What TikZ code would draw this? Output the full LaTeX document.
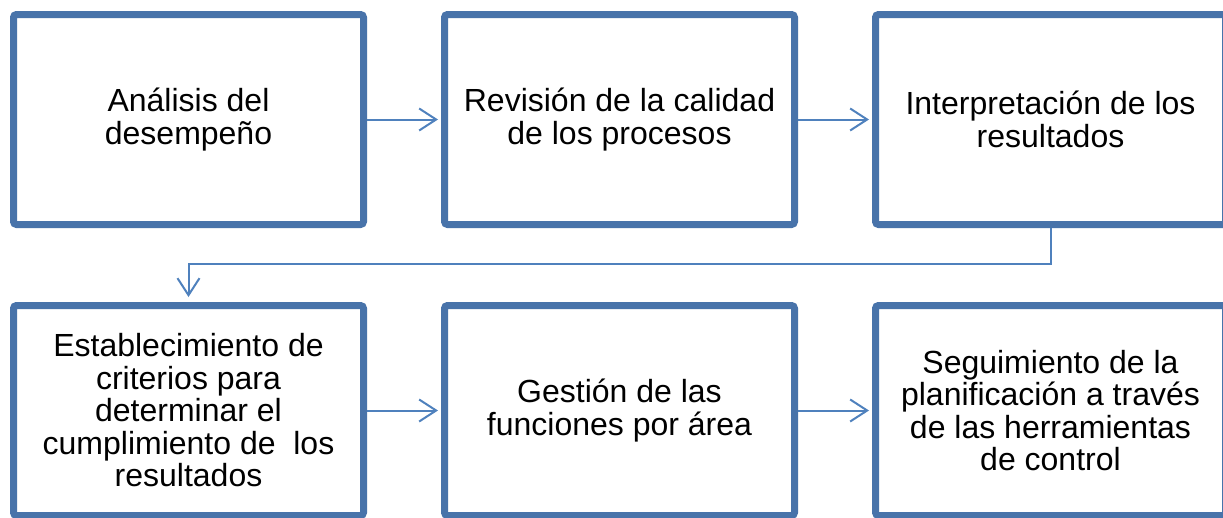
\documentclass[tikz,border=0pt]{standalone}
\usepackage{fontspec}
\setmainfont{Liberation Sans}
\usepackage{xcolor}
\usetikzlibrary{arrows.meta,positioning,shadows}

\definecolor{boxblue}{RGB}{72,115,170}
\definecolor{linkblue}{RGB}{79,129,189}

\begin{document}
\begin{tikzpicture}[
    x=1pt, y=-1pt,
    node distance=74pt,
    stage/.style={rectangle, draw=boxblue, line width=7pt, fill=white, rounded corners=3pt,
        minimum width=350pt, minimum height=210pt, align=center,
        font=\fontsize{32}{32.5}\selectfont,
        drop shadow={shadow xshift=1pt, shadow yshift=-3pt, opacity=0.25}},
    link/.style={-{Straight Barb[length=17pt, width=22pt]}, line width=2pt, linkblue}
]
    \useasboundingbox (0,0) rectangle (1223,517);

    % Top row
    \node[stage] (s1) at (188.5,119.5) {Análisis del\\desempeño};
    \node[stage, right=of s1] (s2) {Revisión de la calidad\\de los procesos};
    \node[stage, right=of s2] (s3) {Interpretación de los\\resultados};

    % Bottom row
    \node[stage, below=of s1] (s4) {Establecimiento de\\criterios para\\determinar el\\cumplimiento de\ \ los\\resultados};
    \node[stage, right=of s4] (s5) {Gestión de las\\funciones por área};
    \node[stage, right=of s5] (s6) {Seguimiento de la\\planificación a través\\de las herramientas\\de control};

    % Connectors
    \draw[link, shorten >=3pt] (s1) -- (s2);
    \draw[link, shorten >=3pt] (s2) -- (s3);
    \draw[link, shorten >=5pt] (s3.south) -- ++(0,36) -| (s4.north);
    \draw[link, shorten >=3pt] (s4) -- (s5);
    \draw[link, shorten >=3pt] (s5) -- (s6);
\end{tikzpicture}
\end{document}
